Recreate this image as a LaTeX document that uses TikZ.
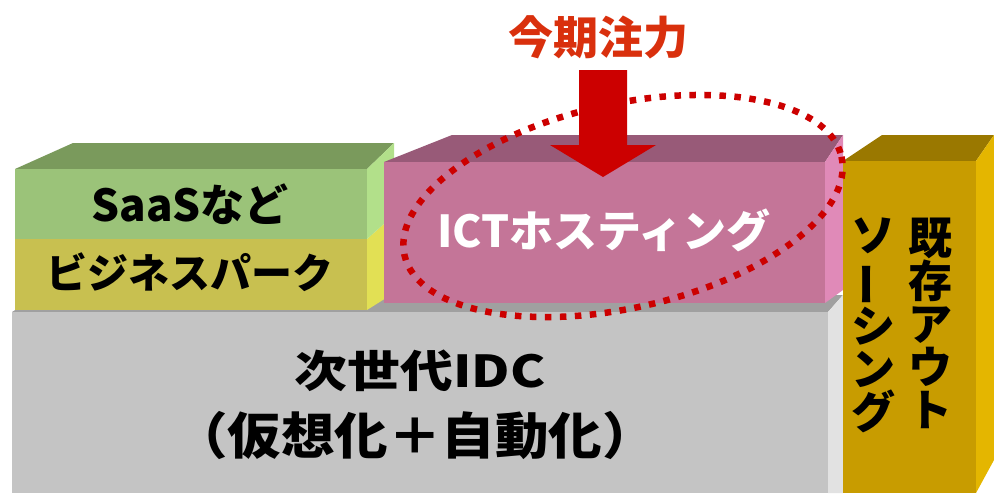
\documentclass[tikz,border=0pt]{standalone}
\usepackage{fontspec}
\usepackage{graphicx}
\newfontfamily\jpfont{Noto Sans CJK JP}
\definecolor{grayfront}{RGB}{196,196,196}
\definecolor{graytop}{RGB}{160,160,160}
\definecolor{grayside}{RGB}{226,226,226}
\definecolor{yelfront}{RGB}{200,192,80}
\definecolor{yelside}{RGB}{226,224,84}
\definecolor{grnfront}{RGB}{155,195,121}
\definecolor{grntop}{RGB}{122,154,92}
\definecolor{grnside}{RGB}{178,224,138}
\definecolor{pnkfront}{RGB}{196,117,152}
\definecolor{pnktop}{RGB}{152,90,120}
\definecolor{pnkside}{RGB}{224,138,184}
\definecolor{gldfront}{RGB}{200,156,0}
\definecolor{gldtop}{RGB}{154,120,0}
\definecolor{gldside}{RGB}{228,182,0}
\definecolor{focusred}{RGB}{204,0,0}
\definecolor{titlered}{RGB}{217,48,13}
\begin{document}
\begin{tikzpicture}[x=1pt,y=-1pt,
    boxtext/.style={font=\jpfont\bfseries\fontsize{44}{43}\selectfont, inner sep=0pt},
    focusring/.style={draw=focusred, line width=6.5pt, dash pattern=on 6.5pt off 8.5pt},
  ]
\useasboundingbox (0,0) rectangle (994,493);
% base block
\fill[graytop] (40,295) -- (843,295) -- (828,312) -- (12,312) -- cycle;
\fill[grayside] (828,312) -- (843,295) -- (843,493) -- (828,493) -- cycle;
\fill[grayfront] (12,312) rectangle (828,493);
% business park
\fill[yelside] (367,239) -- (394,215) -- (394,293) -- (367,310) -- cycle;
\fill[yelfront] (15,239) rectangle (367,310);
% saas
\fill[grntop] (15,169) -- (73,143) -- (394,143) -- (367,169) -- cycle;
\fill[grnside] (367,169) -- (394,143) -- (394,215) -- (367,239) -- cycle;
\fill[grnfront] (15,169) rectangle (367,239);
% ict hosting
\fill[pnktop] (384,162) -- (452,135) -- (843,135) -- (825,162) -- cycle;
\fill[pnkside] (825,162) -- (843,135) -- (843,290) -- (825,303) -- cycle;
\fill[pnkfront] (384,162) rectangle (825,303);
% outsourcing
\fill[gldtop] (843,161) -- (882,135) -- (994,135) -- (976,161) -- cycle;
\fill[gldside] (976,161) -- (994,135) -- (994,460) -- (976,493) -- cycle;
\fill[gldfront] (843,161) rectangle (976,493);

\node[boxtext] (saas) at (190,204) {SaaSなど};
\node[boxtext, font=\jpfont\bfseries\fontsize{41}{41}\selectfont] (bizpark) at (190,272) {ビジネスパーク};
\node[boxtext, text=white] (ict) at (604,230) {ICTホスティング};
\node[boxtext] (idc) at (420,371) {\scalebox{1.2}[1]{次世代IDC}};
\node[boxtext, font=\jpfont\bfseries\fontsize{50}{50}\selectfont] (idcsub) at (415,436)
    {\scalebox{1.07}[1]{（仮想化＋自動化）}};
\node[boxtext, anchor=north, align=center] (outsrcA) at (930,218) {既\\存\\ア\\ウ\\ト};
\node[boxtext, anchor=north, align=center] (outsrcB) at (873,218)
    {ソ\\\rotatebox[origin=c]{90}{ー}\\シ\\ン\\グ};

% focus
\draw[focusring] (623,206) ellipse [x radius=224, y radius=102, rotate=12.7];
\fill[focusred] (579,70) -- (627,70) -- (627,145) -- (656,145) -- (603,177)
    -- (550,145) -- (579,145) -- cycle;
\node[boxtext, text=titlered, font=\jpfont\bfseries\fontsize{45}{45}\selectfont] (focus) at (598,37) {今期注力};
\end{tikzpicture}
\end{document}
